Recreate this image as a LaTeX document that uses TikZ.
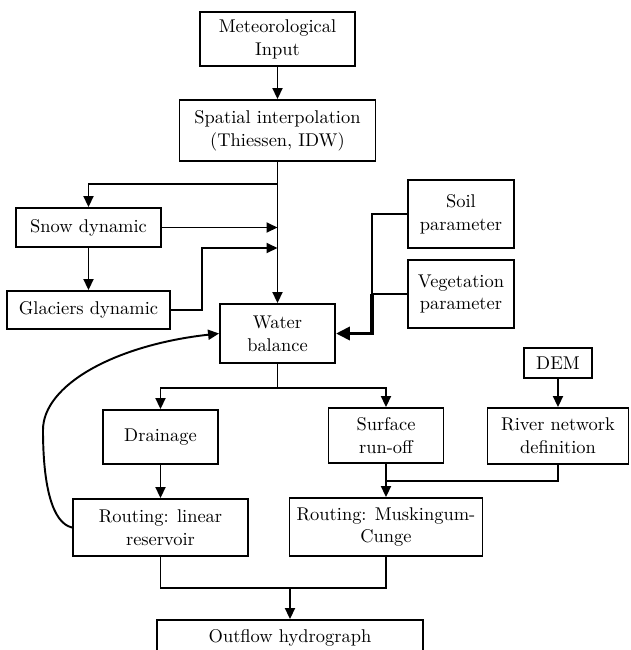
\documentclass[tikz,border=0pt]{standalone}
\usepackage{tikz}
\usetikzlibrary{arrows.meta,positioning,calc}
\tikzset{
  box/.style  = {draw, line width=1.1pt, rectangle, align=center,
                 inner sep=2pt, font=\fontsize{10.5pt}{13pt}\selectfont},
  sig/.style  = {-{Triangle[length=2.2mm,width=2mm]}, line width=1.1pt},
  wire/.style = {line width=1.1pt},
}

\begin{document}
\begin{tikzpicture}[x=0.02cm, y=-0.02cm]
\useasboundingbox (0,0) rectangle (630,650);
% ---- input chain ----
\node[box, minimum width=3.1cm, minimum height=1.08cm] (met) at (277.5,39)
     {Meteorological\\Input};
\node[box, minimum width=3.92cm, minimum height=1.22cm] (spat) at (277.5,130.5)
     {Spatial interpolation\\(Thiessen, IDW)};
\node[box, minimum width=2.9cm, minimum height=0.78cm] (snow) at (88.5,227.5)
     {Snow dynamic};
\node[box, minimum width=3.26cm, minimum height=0.76cm] (glac) at (88.5,310)
     {Glaciers dynamic};
\node[box, minimum width=2.3cm, minimum height=1.18cm] (water) at (277.5,333.5)
     {Water\\balance};
% ---- parameters ----
\node[box, minimum width=2.12cm, minimum height=1.36cm] (soil) at (461,214)
     {Soil\\parameter};
\node[box, minimum width=2.12cm, minimum height=1.36cm] (veg) at (461,294)
     {Vegetation\\parameter};
\node[box, minimum width=1.36cm, minimum height=0.6cm] (dem) at (558,363)
     {DEM};
% ---- runoff and routing ----
\node[box, minimum width=2.3cm, minimum height=1.08cm] (drain) at (160.5,437)
     {Drainage};
\node[box, minimum width=2.3cm, minimum height=1.1cm] (surf) at (386,435.5)
     {Surface\\run-off};
\node[box, minimum width=2.82cm, minimum height=1.12cm] (river) at (558,436)
     {River network\\definition};
\node[box, minimum width=3.5cm, minimum height=1.14cm] (rlin) at (160.5,527.5)
     {Routing: linear\\reservoir};
\node[box, minimum width=3.86cm, minimum height=1.16cm] (rmus) at (386,527)
     {Routing: Muskingum-\\Cunge};
\node[box, minimum width=5.32cm, minimum height=0.7cm] (out) at (290,637.5)
     {Outflow hydrograph};
% ---- junctions ----
\coordinate (br) at (277.5,184);
\coordinate (gj) at (277.5,248);
\coordinate (pj) at (372,294);
\coordinate (wj) at (277.5,388);
\coordinate (rj) at (386,481);
\coordinate (oj) at (290,588);
% ---- connectors ----
\draw[sig] (met) -- (spat);
\draw[sig] (spat) -- (water);
\draw[sig] (br) -| (snow.north);
\draw[sig] (snow.east) -- (snow.east -| br);
\draw[sig] (snow) -- (glac);
\draw[sig] (glac.east) -| (202,270) |- (gj);
\draw[wire] (soil.west) -| (pj);
\draw[wire] (veg.west) -- (pj);
\draw[-{Triangle[length=2.8mm,width=2.6mm]}, line width=2pt] (pj) |- (water.east);
\draw[wire] (water.south) -- (wj);
\draw[sig] (wj) -| (drain.north);
\draw[sig] (wj) -| (surf.north);
\draw[sig] (dem) -- (river);
\draw[wire] (river.south) |- (rj);
\draw[sig] (surf) -- (rmus);
\draw[sig] (drain) -- (rlin);
\draw[sig] (rlin.west) .. controls (52,523) and (43,485) .. (43,430)
                       .. controls (43,385) and (115,345) .. (water.west);
\draw[wire] (rlin.south) |- (oj) -| (rmus.south);
\draw[sig] (oj) -- (out);
\end{tikzpicture}
\end{document}
